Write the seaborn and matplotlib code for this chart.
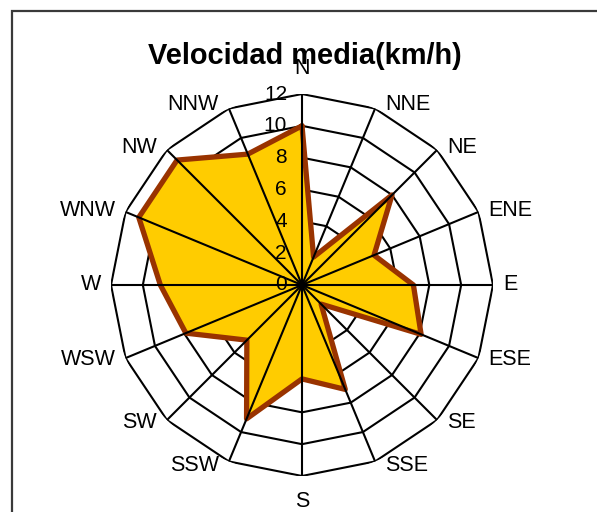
import numpy as np
import pandas as pd
import matplotlib
matplotlib.use("Agg")
import matplotlib.pyplot as plt
from matplotlib.patches import Rectangle
import seaborn as sns

# Mean wind speed by direction (km/h)
directions = ["N", "NNE", "NE", "ENE", "E", "ESE", "SE", "SSE",
              "S", "SSW", "SW", "WSW", "W", "WNW", "NW", "NNW"]
speeds = [10.0, 1.9, 8.0, 4.9, 7.0, 8.1, 1.7, 7.1,
          5.9, 9.1, 4.9, 7.9, 8.9, 11.1, 11.1, 8.9]
radial_ticks = [0, 2, 4, 6, 8, 10, 12]
title = "Velocidad media(km/h)"

sns.set_theme(style="white")
plt.rcParams["font.family"] = ["Liberation Sans", "DejaVu Sans"]

W, H = 597, 512
fig = plt.figure(figsize=(W / 100, H / 100), dpi=100)
fig.patch.set_facecolor("white")

# chart-area frame (continues past the right and bottom edges)
fig.patches.append(Rectangle((11.5 / W, -0.2), 1.5, 1.2 - 10.5 / H,
                             transform=fig.transFigure, fill=False,
                             edgecolor="#3a3a3a", linewidth=1.6, zorder=0))

cx, cy, R = 302, 285, 191
ax = fig.add_axes([(cx - R) / W, (H - cy - R) / H, 2 * R / W, 2 * R / H],
                  projection="polar")
ax.set_theta_zero_location("N")
ax.set_theta_direction(-1)
ax.set_ylim(0, 12)
ax.grid(False)
ax.set_xticks([])
ax.set_yticks([])
ax.spines["polar"].set_visible(False)
ax.set_facecolor("none")

n = len(directions)
theta = np.arange(n) * 2 * np.pi / n
theta_c = np.append(theta, theta[0])

# polygonal rings (behind the data)
for r in radial_ticks[1:]:
    ax.plot(theta_c, [r] * (n + 1), color="black", lw=1.5, zorder=1,
            solid_joinstyle="miter")

# filled series with outline
df = pd.DataFrame({"theta": theta_c, "speed": speeds + speeds[:1]})
ax.fill(df["theta"], df["speed"], color="#FFCC00", zorder=2, lw=0)
sns.lineplot(data=df, x="theta", y="speed", sort=False, estimator=None,
             ax=ax, color="#993300", lw=3.8, zorder=3)
ax.set_xlabel("")
ax.set_ylabel("")

# radial value labels along the north axis
for r in radial_ticks:
    ax.annotate(str(r), xy=(0, r), xytext=(-15, 0), textcoords="offset pixels",
                ha="right", va="center", fontsize=15, color="black", zorder=3.5)

# spokes (on top of the data)
for t in theta:
    ax.plot([t, t], [0, 12], color="black", lw=1.5, zorder=4)

# direction labels
for t, name in zip(theta, directions):
    s, c = np.sin(t), np.cos(t)
    if abs(s) < 0.1:
        ha = "center"
        va = "bottom" if c > 0 else "top"
        off = (0, 15 if c > 0 else -15)
    else:
        ha = "left" if s > 0 else "right"
        va = "center"
        off = (10 * np.sign(s), 4 * c)
    ax.annotate(name, xy=(t, 12), xytext=off, textcoords="offset pixels",
                ha=ha, va=va, fontsize=15.5, color="black",
                annotation_clip=False)

fig.text(305 / W, 1 - 55.5 / H, title, ha="center", va="center",
         fontsize=20.9, fontweight="bold", color="black")

fig.savefig("out.png", dpi=100)
